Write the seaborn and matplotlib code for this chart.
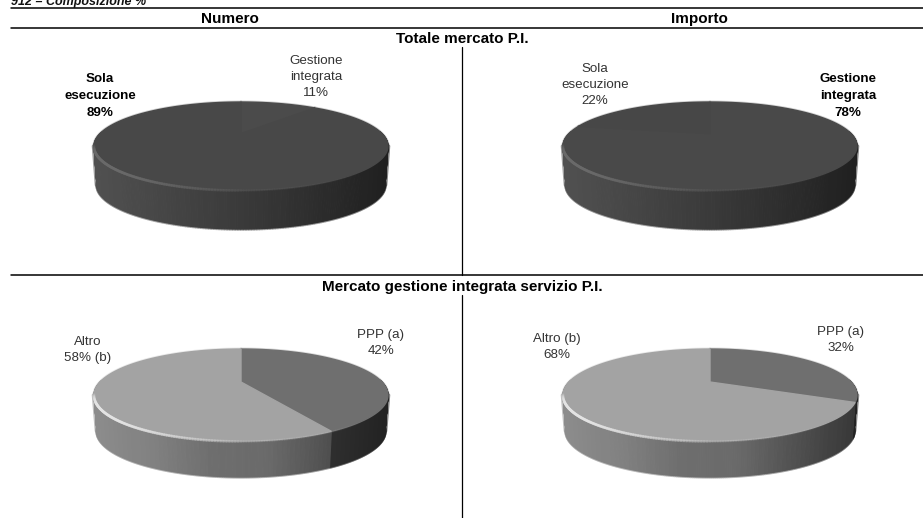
import numpy as np
import matplotlib
matplotlib.use("Agg")
import matplotlib.pyplot as plt
import seaborn as sns

sns.set_theme(style="white")
plt.rcParams["font.family"] = ["Liberation Sans", "DejaVu Sans"]

# Shares in percent, listed clockwise from twelve o'clock
numero_totale = [11, 89]
importo_totale = [78, 22]
numero_gestione = [42, 58]
importo_gestione = [32, 68]

# Surface greys for each slice of each pie
top_dark_a = ["#4b4b4b", "#484848"]
top_dark_b = ["#494949", "#474747"]
top_split = ["#6f6f6f", "#a3a3a3"]

W, H = 923, 518
fig = plt.figure(figsize=(W / 100, H / 100), dpi=100, facecolor="white")
ax = fig.add_axes([0, 0, 1, 1])
ax.set_xlim(0, W)
ax.set_ylim(H, 0)
ax.axis("off")

TILT = 0.283


def project(theta, cx, cy, b, a=141.0, k=TILT):
    """Perspective view of a unit disc; theta runs clockwise from the far point."""
    u, v = np.sin(theta), np.cos(theta)
    d = 1 + k * v
    return cx + a * u / d, cy - b * v / d


def draw_pie(values, colors, side_palettes, cx, cy, b, depth, rim):
    edges = 2 * np.pi * np.cumsum([0] + list(values)) / sum(values)
    taper = 0.98  # the base sits a little further away than the top

    # Side wall: thin strips on the near half, shaded from the slice's own ramp
    for i, ramp in enumerate(side_palettes):
        th = np.linspace(edges[i], edges[i + 1], 400)
        x, y = project(th, cx, cy, b)
        xb = cx + (x - cx) * taper
        xmin, xmax = cx - 147, cx + 147
        for j in range(len(th) - 1):
            if np.cos((th[j] + th[j + 1]) / 2) > 0.05:
                continue
            t = (x[j] - xmin) / (xmax - xmin)
            col = ramp[int(np.clip(t, 0, 0.999) * len(ramp))]
            ax.fill([x[j], x[j + 1], xb[j + 1], xb[j]],
                    [y[j], y[j + 1], y[j + 1] + depth, y[j] + depth],
                    color=col, lw=0.8, zorder=2)
            # soft lower edge of the wall
            ax.plot([xb[j], xb[j + 1]], [y[j] + depth, y[j + 1] + depth],
                    color=col, lw=2.4, alpha=0.3, zorder=1)

    # Soft outer edges of the wall at the two widest points of the disc
    for side, ramp in ((-1, side_palettes[-1]), (1, side_palettes[0])):
        w = np.arccos(-TILT)
        xw, yw = project(side * w, cx, cy, b)
        col = ramp[0] if side < 0 else ramp[-1]
        ax.plot([xw + side * 0.6, cx + (xw - cx) * taper + side * 0.6],
                [yw, yw + depth], color=col, lw=2.4, alpha=0.55, zorder=1)

    # Top face, with a faint stroke that softens the far edge
    for i, col in enumerate(colors):
        th = np.linspace(edges[i], edges[i + 1], 200)
        x, y = project(th, cx, cy, b)
        ax.plot(x, y, color=col, lw=2.2, alpha=0.25, zorder=1)
        ax.fill(np.r_[cx, x], np.r_[cy, y], color=col, lw=1.0, zorder=3)

    # Bevel along the near edge, strongest at the left
    th = np.linspace(np.pi * 1.0, np.pi * 1.42, 90)
    x, y = project(th, cx, cy, b)
    n = len(th) - 1
    for j in range(n):
        s = j / n
        alpha = 0.15 + 0.75 * min(s * 1.6, 1.0)
        alpha *= min((1 - s) * 6, 1.0)
        ax.plot(x[j:j + 2], y[j:j + 2] + 0.5, color=rim, lw=2.0,
                alpha=alpha, solid_capstyle="round", zorder=4)
    th = np.linspace(np.pi * 0.75, np.pi * 1.0, 60)
    x, y = project(th, cx, cy, b)
    n = len(th) - 1
    for j in range(n):
        ax.plot(x[j:j + 2], y[j:j + 2] + 0.5, color=rim, lw=1.6,
                alpha=0.15 * j / n, solid_capstyle="round", zorder=4)


dark_side = sns.blend_palette(["#505050", "#454545", "#3a3a3a", "#2e2e2e", "#202020"], 64)
light_side = sns.blend_palette(["#8c8c8c", "#808080", "#6e6e6e", "#6a6a6a", "#505050", "#383838"], 64)
ppp_side = ["#3a3a3a"] * 40 + sns.blend_palette(["#3a3a3a", "#232323"], 24)

draw_pie(numero_totale, top_dark_a, [dark_side, dark_side], 241, 133.6, 40.5, 39, "#6a6a6a")
draw_pie(importo_totale, top_dark_b, [dark_side, dark_side], 710, 133.6, 40.5, 39, "#6a6a6a")
draw_pie(numero_gestione, top_split, [ppp_side, light_side], 241, 382, 42.3, 36, "#e4e4e4")
draw_pie(importo_gestione, top_split, [ppp_side, light_side], 710, 382, 42.3, 36, "#e4e4e4")

# Rules and central divider
for yy, x0 in [(8.3, 11), (28.3, 11), (275, 11)]:
    ax.plot([x0, W], [yy, yy], color="black", lw=1.1, zorder=5)
ax.plot([462.3, 462.3], [47, 275], color="black", lw=0.9, zorder=5)
ax.plot([462.3, 462.3], [295, 518], color="black", lw=0.9, zorder=5)

# Header text, partly cut off by the top edge
ax.text(11, 4.5, "912 – Composizione %", fontsize=9, fontweight="bold", style="italic",
        ha="left", va="baseline", color="#111111", zorder=6)
heading = dict(fontsize=11, fontweight="bold", ha="center", va="center", color="black", zorder=6)
ax.text(230, 19, "Numero", **heading)
ax.text(699, 19, "Importo", **heading)
ax.text(462, 39, "Totale mercato P.I.", **heading)
ax.text(462, 287, "Mercato gestione integrata servizio P.I.", **heading)

plain = dict(fontsize=9.6, ha="center", va="center", color="#333333",
             linespacing=1.5, zorder=6)
strong = dict(fontsize=9.6, fontweight="bold", ha="center", va="center",
              color="black", linespacing=1.5, zorder=6)
ax.text(316, 77, f"Gestione\nintegrata\n{numero_totale[0]}%", **plain)
ax.text(100, 96, f"Sola\nesecuzione\n{numero_totale[1]}%", **strong)
ax.text(595, 85, f"Sola\nesecuzione\n{importo_totale[1]}%", **plain)
ax.text(848, 96, f"Gestione\nintegrata\n{importo_totale[0]}%", **strong)
ax.text(381, 343, f"PPP (a)\n{numero_gestione[0]}%", **plain)
ax.text(88, 350, f"Altro\n{numero_gestione[1]}% (b)", **plain)
ax.text(841, 340, f"PPP (a)\n{importo_gestione[0]}%", **plain)
ax.text(557, 347, f"Altro (b)\n{importo_gestione[1]}%", **plain)

fig.savefig("out.png", dpi=100, facecolor="white")
